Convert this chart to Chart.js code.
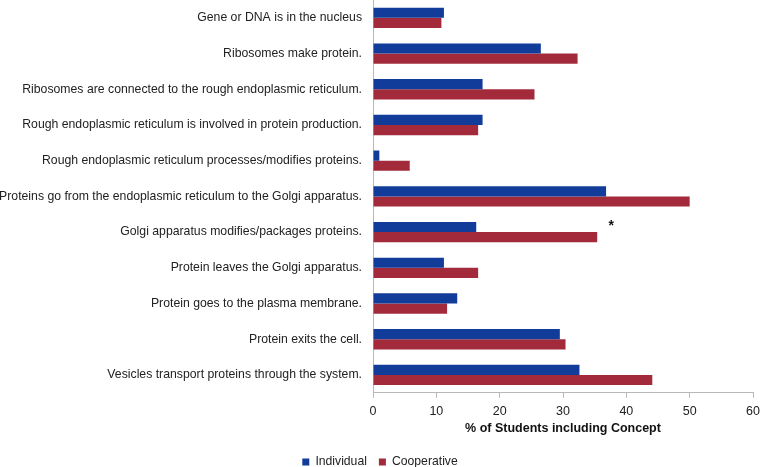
<!DOCTYPE html>
<html>
<head>
<meta charset="utf-8">
<script src="https://cdn.jsdelivr.net/npm/chart.js@4/dist/chart.umd.min.js"></script>
<style>
  html, body { margin: 0; padding: 0; background: #fff; }
  #wrap { width: 760px; height: 467px; }
</style>
</head>
<body>
<div id="wrap"><canvas id="grafico"></canvas></div>
<script>
// Categorias (de cima para baixo)
const conceitos = [
  'Gene or DNA is in the nucleus',
  'Ribosomes make protein.',
  'Ribosomes are connected to the rough endoplasmic reticulum.',
  'Rough endoplasmic reticulum is involved in protein production.',
  'Rough endoplasmic reticulum processes/modifies proteins.',
  'Proteins go from the endoplasmic reticulum to the Golgi apparatus.',
  'Golgi apparatus modifies/packages proteins.',
  'Protein leaves the Golgi apparatus.',
  'Protein goes to the plasma membrane.',
  'Protein exits the cell.',
  'Vesicles transport proteins through the system.'
];

// % de estudantes
const individual  = [11.2, 26.5, 17.3, 17.3, 1.0, 36.8, 16.3, 11.2, 13.3, 29.5, 32.6];
const cooperativo = [10.8, 32.3, 25.5, 16.6, 5.8, 50.0, 35.4, 16.6, 11.7, 30.4, 44.1];

const xTicks = [0, 10, 20, 30, 40, 50, 60];

// diferença significativa (asterisco)
const asterisco = { categoria: 6, valor: 37.6, texto: '*' };

const fonte = 'Liberation Sans, Arial, Helvetica, sans-serif';

// desenha o asterisco
const pluginAsterisco = {
  id: 'asterisco',
  afterDatasetsDraw(chart) {
    const ctx = chart.ctx;
    const x = chart.scales.x.getPixelForValue(asterisco.valor);
    const y = chart.scales.y.getPixelForValue(asterisco.categoria) - 5.5;
    ctx.save();
    ctx.font = 'bold 14px ' + fonte;
    ctx.fillStyle = '#111';
    ctx.textAlign = 'center';
    ctx.textBaseline = 'middle';
    ctx.fillText(asterisco.texto, x, y);
    ctx.restore();
  }
};

const data = {
  labels: conceitos,
  datasets: [
    {
      label: 'Individual',
      data: individual,
      backgroundColor: '#123c9a',
      barPercentage: 1,
      categoryPercentage: 0.57
    },
    {
      label: 'Cooperative',
      data: cooperativo,
      backgroundColor: '#a32a3b',
      barPercentage: 1,
      categoryPercentage: 0.57
    }
  ]
};

const config = {
  type: 'bar',
  data: data,
  options: {
    indexAxis: 'y',
    responsive: true,
    maintainAspectRatio: false,
    animation: false,
    layout: { padding: { top: 0, right: 0, left: 0, bottom: -11 } },
    scales: {
      x: {
        min: 0,
        max: 60,
        afterBuildTicks: (axis) => { axis.ticks = xTicks.map(v => ({ value: v })); },
        grid: { drawOnChartArea: false, drawTicks: true, tickLength: 5, color: '#b8b8b8' },
        border: { color: '#b8b8b8' },
        ticks: { color: '#222', font: { family: fonte, size: 12.5 }, padding: 6 },
        title: {
          display: true,
          text: '% of Students including Concept',
          color: '#111',
          font: { family: fonte, size: 12.5, weight: 'bold' },
          padding: { top: -4, bottom: 8 }
        },
        afterFit: (axis) => { axis.paddingRight = 7; }
      },
      y: {
        grid: { display: false, drawTicks: false },
        border: { color: '#b8b8b8' },
        ticks: { color: '#222', font: { family: fonte, size: 12.25 }, padding: 11 },
        afterFit: (axis) => {
          axis.width = 373;
          // sem margem extra em cima/baixo
          axis.paddingTop = 0;
          axis.paddingBottom = 0;
        }
      }
    },
    plugins: {
      legend: {
        position: 'bottom',
        labels: {
          boxWidth: 7,
          boxHeight: 7,
          padding: 12,
          color: '#222',
          font: { family: fonte, size: 12.2 }
        }
      },
      tooltip: { enabled: false }
    }
  },
  plugins: [pluginAsterisco]
};

new Chart(document.getElementById('grafico').getContext('2d'), config);
</script>
</body>
</html>
